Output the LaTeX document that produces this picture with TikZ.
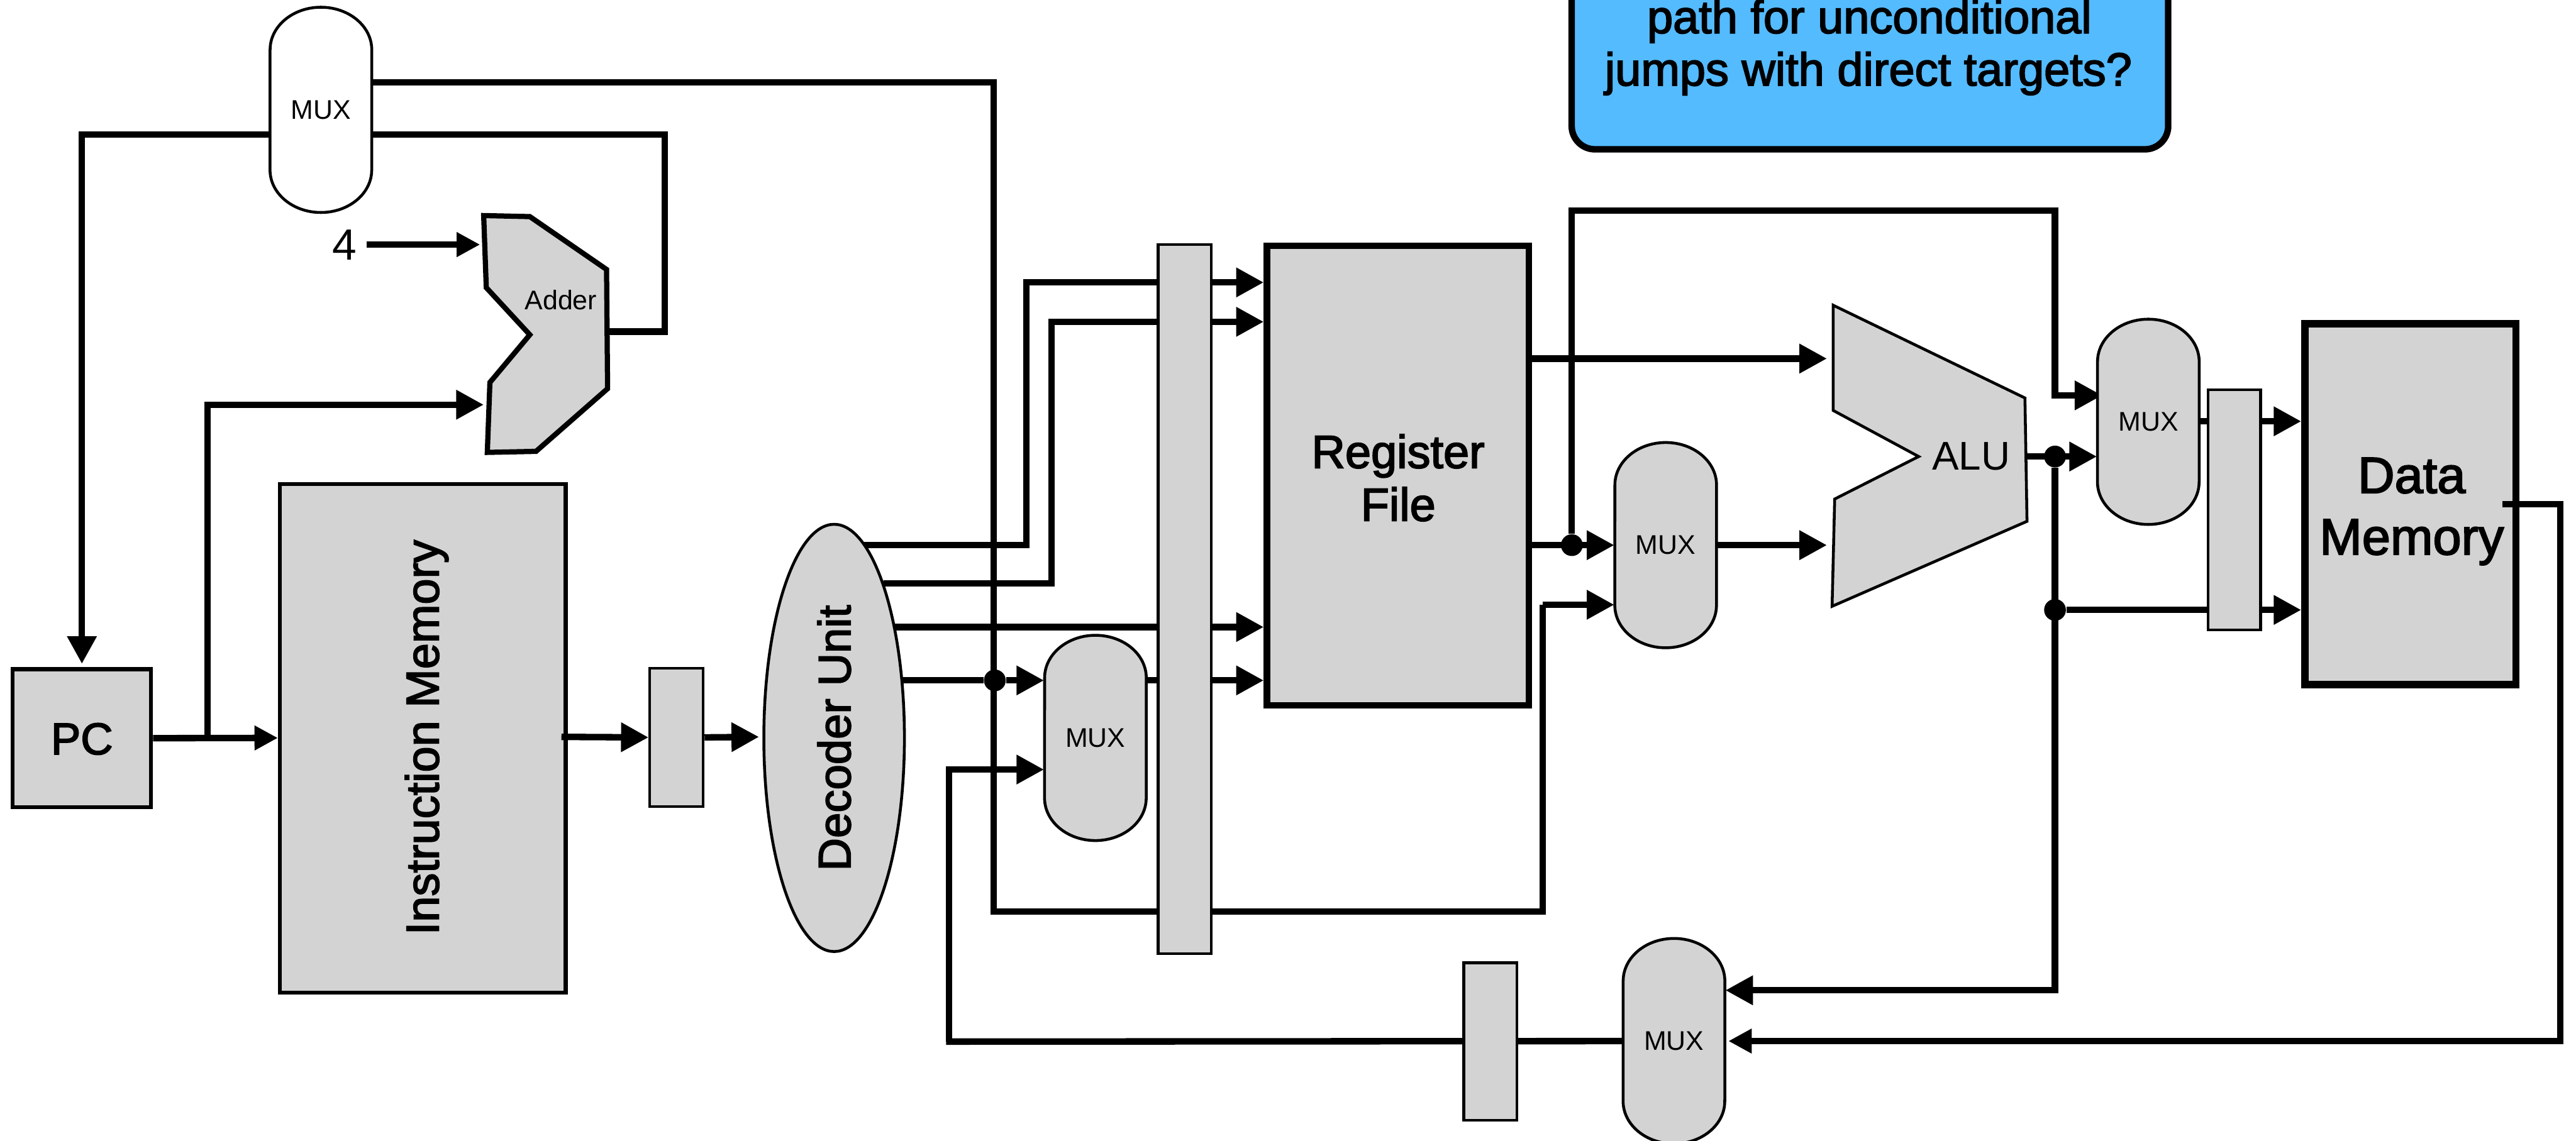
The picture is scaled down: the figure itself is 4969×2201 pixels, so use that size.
\documentclass[tikz,border=0pt]{standalone}
\usepackage{fontspec}
\setmainfont{Liberation Sans}
\newfontfamily\medfont[FakeBold=2.5]{Liberation Sans}
\usetikzlibrary{arrows.meta,shapes.geometric,backgrounds}
\definecolor{boxgray}{HTML}{D3D3D3}
\definecolor{callout}{HTML}{54BBFF}
\newcommand{\fpx}[2]{\fontsize{#1pt}{#2pt}\selectfont}
\tikzset{
  wire/.style={line width=0.125cm,line cap=butt,line join=miter},
  arrowwire/.style={wire,-{Triangle[length=0.53cm,width=0.54cm]}},
  smallhead/.style={wire,-{Triangle[length=0.45cm,width=0.45cm]}},
  dotmark/.style={circle,fill=black,inner sep=0pt,minimum size=0.42cm},
  sheet/.style={rectangle,fill=boxgray,draw=black,inner sep=0pt},
  thickbox/.style={sheet,line width=0.125cm},
  midbox/.style={sheet,line width=0.075cm},
  thinbox/.style={sheet,line width=0.05cm},
  muxoutline/.style={draw=black,line width=0.055cm},
  muxbox/.style={rectangle,inner sep=0pt,minimum width=1.97cm,minimum height=3.96cm,font=\fpx{14.8}{16}},
}
% name, x, y, fill
\newcommand{\muxat}[4]{%
  \draw[muxoutline,fill=#4] (#2-98,#3-116) arc[start angle=180,end angle=0,x radius=0.98cm,y radius=0.82cm]
     -- (#2+98,#3+116) arc[start angle=0,end angle=-180,x radius=0.98cm,y radius=0.82cm] -- cycle;
  \node[muxbox] (#1) at (#2,#3) {MUX};}
\begin{document}
\begin{tikzpicture}[x=0.01cm,y=-0.01cm]
\useasboundingbox (0,0) rectangle (4969,2201);
% boxes
\node[midbox,minimum width=2.67cm,minimum height=2.66cm] (pc) at (158,1424.5) {};
\node[inner sep=0pt,font=\medfont\fpx{24.5}{28}] (pclabel) at (158,1426) {PC};
\node[midbox,minimum width=5.51cm,minimum height=9.81cm] (imem) at (815.5,1424.5) {};
\node[rotate=90,font=\medfont\fpx{25.5}{29},inner sep=0pt] (imemtext) at (823,1423) {Instruction Memory};
\node[thinbox,minimum width=1.03cm,minimum height=2.66cm] (latchA) at (1305,1423) {};
\node[draw=black,fill=boxgray,ellipse,line width=0.055cm,inner sep=0pt,minimum width=2.71cm,minimum height=8.24cm] (dec) at (1609,1424) {};
\node[rotate=90,font=\medfont\fpx{25}{29},inner sep=0pt] (dectext) at (dec.center) {Decoder Unit};
\node[thinbox,minimum width=1.02cm,minimum height=13.68cm] (latchB) at (2285,1156) {};
\node[thickbox,minimum width=5.05cm,minimum height=8.86cm] (rf) at (2696.5,918) {};
\node[align=center,inner sep=0pt,font=\medfont\fpx{25.5}{29}] (rflabel) at (2697,922) {Register\\File};
\node[thinbox,minimum width=1.01cm,minimum height=4.63cm] (latchC) at (4310,984) {};
\node[thickbox,line width=0.14cm,minimum width=4.07cm,minimum height=6.96cm] (dm) at (4649.5,973) {};
\node[align=center,inner sep=0pt,font=\medfont\fpx{28}{33.8}] (dmlabel) at (4652,987) {Data\\Memory};
\node[thinbox,minimum width=1.03cm,minimum height=3.04cm] (latchD) at (2875,2010) {};
% muxes
\muxat{muxtop}{619}{212}{white}
\muxat{muxdec}{2113}{1424}{boxgray}
\muxat{muxrf}{3213}{1052}{boxgray}
\muxat{muxalu}{4144}{814}{boxgray}
\muxat{muxbot}{3229}{2009}{boxgray}
% callout
\node[draw=black,fill=callout,rectangle,line width=0.125cm,rounded corners=0.45cm,inner sep=0pt,minimum width=11.5cm,minimum height=6cm] (note) at (3607,-12) {};
\node[inner sep=0pt,font=\medfont\fpx{25.5}{29.5},anchor=base] (notelabelA) at (3606,64) {path for unconditional};
\node[inner sep=0pt,font=\medfont\fpx{25.5}{29.5},anchor=base] (notelabelB) at (3604,165) {jumps with direct targets?};
% adder
\draw[fill=boxgray,line width=0.1cm,line join=miter] (933,416) -- (1022,418) -- (1170,520) -- (1172,750) -- (1034,871) -- (940,873) -- (945,738) -- (1022,646) -- (938,555) -- cycle;
\node[font=\fpx{14.8}{16},inner sep=0pt] (adderlabel) at (1082,579) {Adder};
\coordinate (addA) at (926,472);
\coordinate (addB) at (933,781);
\coordinate (addOut) at (1172,640);
% alu
\draw[fill=boxgray,line width=0.055cm,line join=miter] (3536,589) -- (3906,768) -- (3910,1006) -- (3534,1170) -- (3539,963) -- (3701,881) -- (3536,792) -- cycle;
\node[font=\fpx{22}{24},inner sep=0pt] (alulabel) at (3802,881) {ALU};
\coordinate (aluA) at (3524,692);
\coordinate (aluB) at (3524,1052);
\coordinate (aluOut) at (3910,881);
\node[font=\fpx{24}{26},inner sep=0pt] (four) at (665,473) {4};
% junctions
\node[dotmark] (dotA) at (1919,1313) {};
\node[dotmark] (dotB) at (3032,1052) {};
\node[dotmark] (dotC) at (3964,881) {};
\node[dotmark] (dotD) at (3964,1177) {};
\coordinate (pcjoin) at (400,1424);
\coordinate (imemIn) at (536,1424);
\coordinate (decIn) at (1464,1422);
\coordinate (imemOut) at (1083,1422);
\coordinate (muxaluIn) at (4055,763);
\coordinate (muxbotIn) at (3334,2009);
% wires behind the boxes
\begin{scope}[on background layer]
\draw[wire] (muxtop.east |- 0,159) -- (1917,159) -- (1917,1759) -- (2976,1759) -- (2976,1167);
\draw[arrowwire] (2976,1167) -- (muxrf.west |- 0,1167);
\draw[arrowwire] (158,260) -- (pc.north |- 0,1281);
\draw[wire] (addOut) -- (1282,640) -- (1282,260) -- (152,260);
\draw[smallhead] (pc.east) -- (imemIn);
\draw[arrowwire] (pcjoin) |- (addB);
\draw[smallhead] (707,472) -- (addA);
\draw[arrowwire] (latchA.east) -- (decIn);
\draw[arrowwire] (1666,1052) -- (1980,1052) -- (1980,545) -- (rf.west |- 0,545);
\draw[arrowwire] (1704,1126) -- (2028,1126) -- (2028,621) -- (rf.west |- 0,621);
\draw[arrowwire] (1725,1210) -- (rf.west |- 0,1210);
\draw[arrowwire] (1741,1313) -- (dotA) -- (muxdec.west |- 0,1313);
\draw[arrowwire] (muxdec.east |- 0,1313) -- (rf.west |- 0,1313);
\draw[arrowwire] (1831,2010) -- (1831,1485) -- (muxdec.west |- 0,1485);
\draw[wire] (muxbot.west) -- (1825,2010);
\draw[arrowwire] (rf.east |- 0,692) -- (aluA);
\draw[arrowwire] (rf.east |- 0,1052) -- (muxrf.west |- 0,1052);
\draw[arrowwire] (muxrf.east |- 0,1052) -- (aluB);
\draw[wire] (dotB) -- (3032,406) -- (3964,406);
\draw[arrowwire] (3964,400) -- (3964,763) -- (muxaluIn);
\draw[arrowwire] (aluOut) -- (muxalu.west |- 0,881);
\draw[arrowwire] (dotC) -- (3964,1911) -- (muxbot.east |- 0,1911);
\draw[arrowwire] (dotD) -- (dm.west |- 0,1177);
\draw[arrowwire] (muxalu.east |- 0,813) -- (dm.west |- 0,813);
\end{scope}
% drawn over the boxes they leave
\draw[arrowwire] (imemOut) -- (latchA.west);
\draw[wire] (4827,973) -- (4939,973) -- (4939,2009);
\draw[smallhead] (4945,2009) -- (muxbotIn);
\end{tikzpicture}
\end{document}
